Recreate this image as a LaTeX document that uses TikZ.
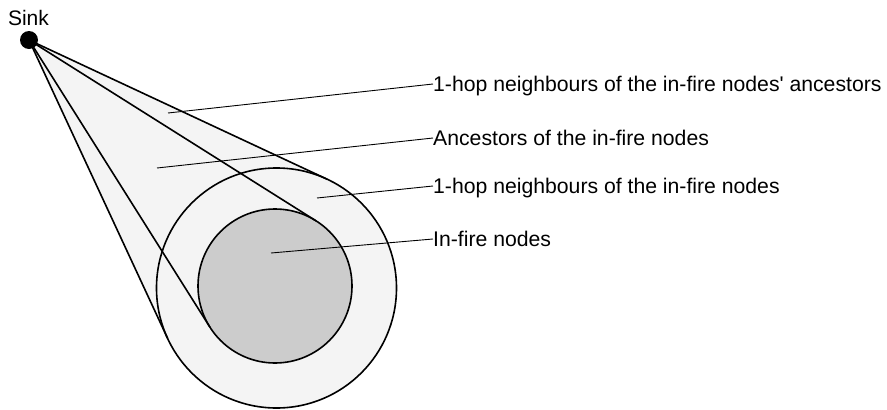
\documentclass[tikz,border=0pt]{standalone}
\usepackage{fontspec}
\setmainfont{Liberation Sans}
\usetikzlibrary{calc}
\definecolor{lightfill}{HTML}{F4F4F4}
\definecolor{darkfill}{HTML}{CCCCCC}
\begin{document}
\begin{tikzpicture}[x=1pt,y=-1pt,
  ring/.style={circle,inner sep=0pt,outer sep=0pt,line width=1.6pt},
  edge/.style={line width=1.6pt},
  leader/.style={line width=0.9pt},
  lbl/.style={anchor=west,inner sep=0pt,text height=15pt,text depth=0pt,font=\fontsize{21.2}{25}\selectfont}]
\useasboundingbox (0,0) rectangle (887,410);
% circles (as nodes, for tangent computations)
\node[ring,minimum size=240pt] (outer) at (276.5,288) {};
\node[ring,minimum size=154pt] (inner) at (275,286) {};
\coordinate (S) at (29,40);
\coordinate (To1) at (tangent cs:node=outer,point={(S)},solution=1);
\coordinate (To2) at (tangent cs:node=outer,point={(S)},solution=2);
\coordinate (Ti1) at (tangent cs:node=inner,point={(S)},solution=1);
\coordinate (Ti2) at (tangent cs:node=inner,point={(S)},solution=2);
% cone fill
\fill[lightfill] (S) -- (To1) -- (To2) -- cycle;
\fill[lightfill] (outer.center) circle[radius=120pt];
\draw[line width=1.6pt] (outer.center) circle[radius=120pt];
\draw[edge] (S) -- (To1);
\draw[edge] (S) -- (To2);
\filldraw[fill=darkfill,line width=1.6pt] (inner.center) circle[radius=77pt];
\draw[edge] (S) -- (Ti1);
\draw[edge] (S) -- (Ti2);
% sink
\node[circle,fill=black,inner sep=0pt,minimum size=18pt] (sink) at (S) {};
\node[anchor=base,inner sep=0pt,font=\fontsize{21}{25}\selectfont] (sinklbl) at (28.5,25) {Sink};
% labels
\node[lbl] (l1) at (433,84) {1-hop neighbours of the in-fire nodes\textquotesingle{} ancestors};
\node[lbl] (l2) at (433,138) {Ancestors of the in-fire nodes};
\node[lbl] (l3) at (433,186) {1-hop neighbours of the in-fire nodes};
\node[lbl] (l4) at (433,239) {In-fire nodes};
\coordinate (p1) at (168,113);
\coordinate (p2) at (157,168);
\coordinate (p3) at (317,198);
\coordinate (p4) at (271,253);
\draw[leader] (p1) -- (l1.west);
\draw[leader] (p2) -- (l2.west);
\draw[leader] (p3) -- (l3.west);
\draw[leader] (p4) -- (l4.west);
\end{tikzpicture}
\end{document}
